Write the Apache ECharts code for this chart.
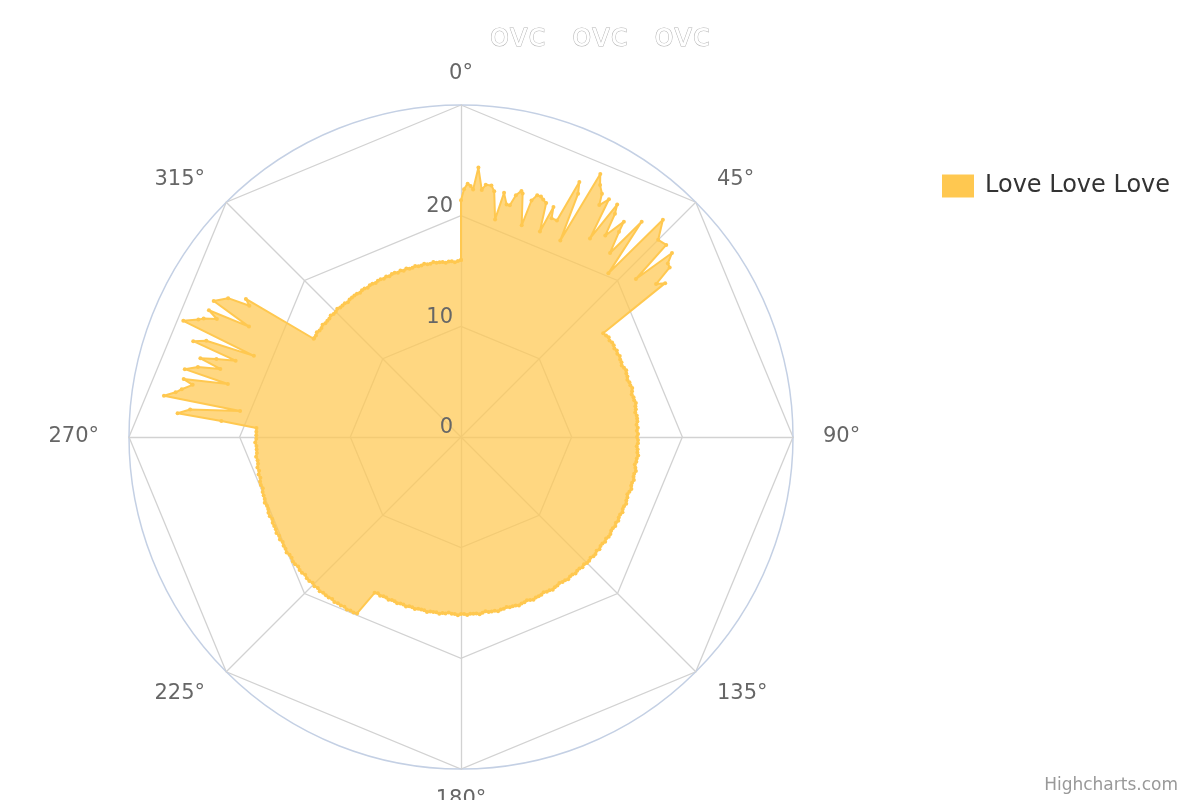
<!DOCTYPE html>
<html>
<head>
<meta charset="utf-8">
<script src="https://cdn.jsdelivr.net/npm/echarts@6/dist/echarts.min.js"></script>
<style>
  html, body { margin: 0; padding: 0; background: #ffffff; }
  #chart { width: 1200px; height: 800px; }
</style>
</head>
<body>
<div id="chart"></div>
<script>
// ---------------- DATA ----------------
const chartTitle = 'ovc\u2002 ovc\u2002 ovc';
const seriesName = 'Love Love Love';
const angleTicks = [0, 45, 90, 135, 180, 225, 270, 315];
const radiusTicks = [0, 10, 20, 30];

// spiky sector 0°–54°
const spikeA_angles = [0, 0, 0.7, 1.5, 2.2, 2.8, 3.7, 4.8, 5.6, 6.9, 7.7, 8.9, 10, 11.1, 11.9, 12.8, 13.8, 14.2,
  16, 16.6, 17.5, 18.4, 19.1, 20, 21, 21.9, 22.5, 23.9, 24.9, 25.7, 26.8, 27.9, 28.9, 30.1, 30.8, 31.9,
  33.0, 33.9, 34.6, 35.6, 37.1, 37.6, 39.0, 40.0, 42.0, 42.9, 45.0, 46.9, 47.9, 48.9, 50.0, 50.9, 51.9, 53.0, 53.9];
const spikeA_values = [16.0, 21.4, 22.4, 22.9, 22.7, 22.4, 24.4, 22.4, 22.9, 22.9, 22.4, 19.9, 22.4, 21.4, 21.4, 22.4, 22.9, 22.7,
  19.9, 22.3, 22.9, 22.9, 22.7, 22.5, 19.9, 22.4, 21.4, 21.4, 25.4, 24.4, 19.9, 26.9, 26.0, 25.4, 24.4, 25.3,
  21.4, 25.3, 24.5, 22.4, 24.4, 23.4, 21.4, 25.4, 19.9, 26.8, 25.2, 25.4, 21.3, 25.3, 24.4, 24.3, 22.4, 23.1, 15.9];

// smooth arc 55°–209°, one point per degree
const arcB_start = 55;
const arcB_values = [
  16.0, 16.1, 16.0, 16.1, 16.1, 16.0, 16.1, 16.0, 16.1, 16.0,
  16.0, 15.9, 16.0, 16.1, 16.0, 16.0, 15.9, 16.0, 16.0, 16.1,
  16.0, 15.9, 16.0, 16.0, 16.1, 16.0, 16.0, 15.9, 16.0, 16.0,
  16.0, 15.9, 16.0, 15.9, 16.0, 15.9, 16.0, 16.0, 15.9, 16.0,
  16.0, 16.1, 16.0, 16.0, 15.9, 16.0, 16.1, 16.0, 16.0, 16.1,
  16.0, 16.0, 16.1, 16.0, 15.9, 16.0, 16.0, 16.1, 16.0, 16.0,
  16.1, 16.0, 16.0, 16.1, 16.0, 16.1, 16.0, 16.0, 16.1, 16.1,
  16.0, 16.1, 16.0, 16.0, 16.1, 16.0, 16.1, 16.1, 16.0, 16.1,
  16.1, 16.0, 16.1, 16.0, 16.0, 16.1, 16.0, 16.0, 16.1, 16.0,
  16.0, 15.9, 16.0, 16.0, 16.1, 16.0, 16.0, 15.9, 16.0, 16.0,
  16.0, 16.1, 16.0, 15.9, 16.0, 16.0, 16.1, 16.0, 16.0, 16.0,
  15.9, 16.0, 16.0, 16.1, 16.0, 16.0, 16.0, 15.9, 16.0, 16.1,
  16.0, 16.0, 16.0, 16.1, 16.0, 16.0, 16.1, 16.0, 16.0, 15.9,
  16.0, 16.0, 16.1, 16.0, 16.0, 16.0, 16.1, 16.0, 16.0, 16.0,
  16.1, 16.0, 16.0, 16.1, 16.0, 16.0, 16.1, 16.0, 16.0, 16.1,
  16.0, 16.0, 16.1, 16.0, 16.1];

// raised plateau 210.5°–272.5°, one point per degree
const plateau_start = 210.5;
const plateau_values = [
  18.5, 18.6, 18.6, 18.7, 18.6, 18.7, 18.7, 18.8, 18.7, 18.8,
  18.8, 18.8, 18.9, 18.8, 18.9, 18.8, 18.9, 18.9, 18.8, 18.9,
  18.9, 18.8, 18.9, 18.9, 18.8, 18.8, 18.9, 18.8, 18.8, 18.7,
  18.8, 18.7, 18.8, 18.7, 18.7, 18.7, 18.6, 18.7, 18.7, 18.6,
  18.6, 18.7, 18.6, 18.6, 18.6, 18.5, 18.6, 18.6, 18.5, 18.6,
  18.5, 18.6, 18.5, 18.5, 18.6, 18.5, 18.5, 18.5, 18.6, 18.5,
  18.5, 18.5, 18.5];

// spiky sector 273°–304°
const spikeC_angles = [273.8, 274.8, 275.8, 276.7, 277.9, 278.9, 279.7, 281.0, 281.8, 282.8, 283.8, 284.9, 285.8,
  286.8, 287.7, 288.7, 289.7, 290.7, 291.4, 292.7, 294.1, 294.7, 295.8, 296.7, 297.5, 298.8, 300.8, 301.8, 302.7, 303.7];
const spikeC_values = [21.7, 25.7, 24.6, 20.1, 27.1, 26.1, 25.6, 24.7, 25.6, 21.6, 25.7, 24.6, 22.6,
  24.6, 23.2, 21.5, 25.7, 24.6, 20.1, 27.2, 26.0, 25.6, 24.5, 25.5, 21.6, 25.5, 24.5, 22.5, 23.1, 16.0];

// smooth arc 304°–360°, one point per degree
const arcD_start = 304;
const arcD_values = [
  16.0, 16.0, 16.1, 16.0, 16.0, 16.1, 16.0, 16.0, 16.0, 16.1,
  16.0, 16.0, 16.1, 16.0, 16.0, 16.0, 15.9, 16.0, 16.0, 16.0,
  16.0, 15.9, 16.0, 16.0, 15.9, 16.0, 16.0, 15.9, 16.0, 16.0,
  15.9, 16.0, 15.9, 16.0, 16.0, 15.9, 16.0, 15.9, 16.0, 15.9,
  15.9, 16.0, 15.9, 15.9, 16.0, 15.9, 15.9, 16.0, 15.9, 15.9,
  15.9, 15.8, 15.9, 15.9, 15.8, 15.9, 16.0];

// ---------------- BUILD ----------------
const points = [];
spikeA_angles.forEach((a, i) => points.push([spikeA_values[i], a]));
arcB_values.forEach((v, i) => points.push([v, arcB_start + i]));
plateau_values.forEach((v, i) => points.push([v, plateau_start + i]));
spikeC_angles.forEach((a, i) => points.push([spikeC_values[i], a]));
arcD_values.forEach((v, i) => points.push([v, arcD_start + i]));

const CX = 461, CY = 437, R = 332;
const mainColor = '#ffc850';
const font = 'DejaVu Sans';

const chart = echarts.init(document.getElementById('chart'), null, { renderer: 'canvas' });
chart.setOption({
  animation: false,
  backgroundColor: '#ffffff',
  textStyle: { fontFamily: font },
  title: {
    text: chartTitle,
    left: 'center',
    top: 17,
    textStyle: {
      fontFamily: font,
      fontSize: 32,
      fontWeight: 'normal',
      color: '#ffffff',
      textBorderColor: '#b4b4b4',
      textBorderWidth: 1
    }
  },
  legend: {
    data: [seriesName],
    left: 942,
    top: 174,
    padding: 0,
    orient: 'vertical',
    icon: 'rect',
    itemWidth: 32,
    itemHeight: 23,
    textStyle: { fontFamily: font, fontSize: 24, color: '#333333', padding: [0, 0, 0, 6] }
  },
  radar: {
    center: [CX, CY],
    radius: R,
    startAngle: 90,
    shape: 'polygon',
    splitNumber: 3,
    z: 0,
    indicator: angleTicks.map(() => ({ min: 0, max: radiusTicks[radiusTicks.length - 1] })),
    axisName: { show: false },
    splitArea: { show: false },
    splitLine: { lineStyle: { color: '#d2d2d2', width: 1.3 } },
    axisLine: { lineStyle: { color: '#d2d2d2', width: 1.3 } },
    axisTick: { show: false },
    axisLabel: { show: false }
  },
  polar: { center: [CX, CY], radius: R },
  angleAxis: {
    type: 'value',
    min: 0,
    max: 360,
    interval: 45,
    startAngle: 90,
    clockwise: true,
    axisLine: { show: true, lineStyle: { color: '#c4d0e4', width: 1.5 } },
    axisTick: { show: false },
    splitLine: { show: false },
    axisLabel: {
      margin: 30,
      lineHeight: 2,
      fontSize: 21,
      color: '#666666',
      fontFamily: font,
      formatter: v => (angleTicks.indexOf(v) >= 0 ? v + '°' : '')
    }
  },
  radiusAxis: {
    type: 'value',
    min: 0,
    max: 30,
    interval: 10,
    z: 10,
    axisLine: { show: false },
    axisTick: { show: false },
    splitLine: { show: false },
    axisLabel: {
      margin: 8,
      fontSize: 21,
      lineHeight: 18,
      color: '#666666',
      fontFamily: font,
      align: 'right',
      verticalAlign: 'bottom',
      formatter: v => (v === 30 ? '' : String(v))
    }
  },
  series: [{
    name: seriesName,
    type: 'line',
    coordinateSystem: 'polar',
    data: points,
    z: 3,
    symbol: 'circle',
    symbolSize: 4,
    showSymbol: true,
    showAllSymbol: true,
    lineStyle: { color: mainColor, width: 2 },
    itemStyle: { color: mainColor },
    areaStyle: { color: mainColor, opacity: 0.72 }
  }],
  graphic: [{
    type: 'text',
    right: 22,
    top: 777,
    style: { text: 'Highcharts.com', fontFamily: font, fontSize: 17, fill: '#999999' }
  }]
});
</script>
</body>
</html>
